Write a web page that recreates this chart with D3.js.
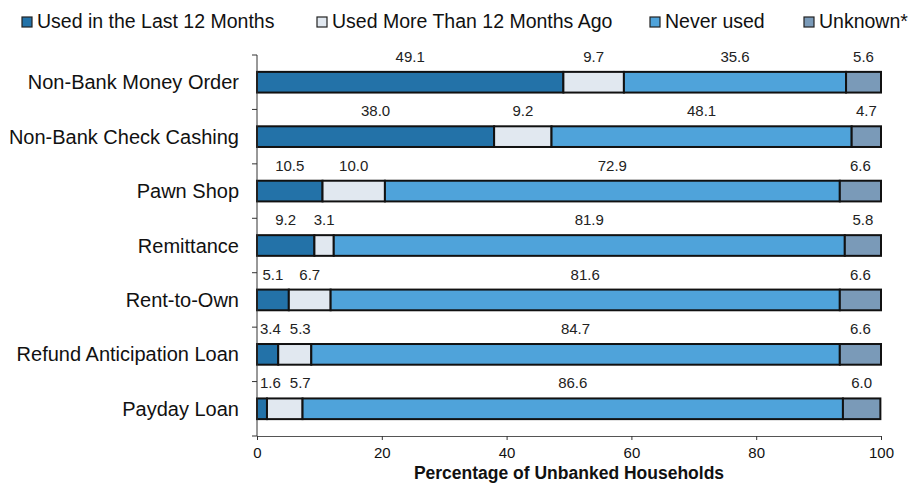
<!DOCTYPE html>
<html><head><meta charset="utf-8">
<script src="https://cdn.jsdelivr.net/npm/d3@7"></script>
<style>body{margin:0;background:#fff}text{font-family:"Liberation Sans",Arial,sans-serif}</style>
</head><body><svg id="c" width="911" height="483"></svg>
<script>
const categories = ["Non-Bank Money Order","Non-Bank Check Cashing","Pawn Shop","Remittance","Rent-to-Own","Refund Anticipation Loan","Payday Loan"];
const seriesNames = ["Used in the Last 12 Months","Used More Than 12 Months Ago","Never used","Unknown*"];
const usedLast12 = [49.1,38.0,10.5,9.2,5.1,3.4,1.6];
const usedMore12 = [9.7,9.2,10.0,3.1,6.7,5.3,5.7];
const neverUsed = [35.6,48.1,72.9,81.9,81.6,84.7,86.6];
const unknown = [5.6,4.7,6.6,5.8,6.6,6.6,6.0];
const xTicks = [0,20,40,60,80,100];
const colors = ["#2372a8","#e1e8f0","#4fa3da","#7a9ab8"];

const svg = d3.select("#c");
const m = {l:257, r:30, t:55, b:47};
const W = 911, H = 483;
const x = d3.scaleLinear().domain([0,100]).range([m.l, W - m.r]);
const y = d3.scaleBand().domain(categories).range([m.t, H - m.b]).paddingInner(0.62).paddingOuter(0.31);

const rows = categories.map((c,i)=>({cat:c, vals:[usedLast12[i],usedMore12[i],neverUsed[i],unknown[i]]}));
const series = seriesNames.map((s,k)=>rows.map(r=>{
  const start = d3.sum(r.vals.slice(0,k));
  return {cat:r.cat, k, v:r.vals[k], x0:start, x1:Math.min(start + r.vals[k],100)};
}));

// bars
series.forEach((ser,k)=>{
  svg.append("g").selectAll("rect").data(ser).join("rect")
    .attr("x", d=>x(d.x0)).attr("width", d=>x(d.x1)-x(d.x0))
    .attr("y", d=>y(d.cat)).attr("height", y.bandwidth())
    .attr("fill", colors[k]).attr("stroke","#111").attr("stroke-width",2);
});

// value labels, centred over segments, nudged apart when crowded
const lblG = svg.append("g");
rows.forEach(r=>{
  let prevRight = x(0) + 3;
  series.forEach(ser=>{
    const d = ser.find(e=>e.cat===r.cat);
    const t = lblG.append("text").attr("y", y(r.cat)-10)
      .attr("text-anchor","middle").attr("font-size",15).attr("fill","#222")
      .text(d.v.toFixed(1));
    const w = t.node().getComputedTextLength();
    let cx = (x(d.x0)+x(d.x1))/2;
    if (cx - w/2 < prevRight) cx = prevRight + w/2;
    t.attr("x", cx);
    prevRight = cx + w/2 + 9;
  });
});

// y axis
const yAxisG = svg.append("g");
yAxisG.append("line").attr("x1",m.l).attr("x2",m.l).attr("y1",m.t).attr("y2",H-m.b).attr("stroke","#333");
const bounds = d3.range(categories.length+1).map(i=>m.t + i*(H-m.b-m.t)/categories.length);
yAxisG.selectAll("line.t").data(bounds).join("line").attr("class","t")
  .attr("x1",m.l-5).attr("x2",m.l).attr("y1",d=>d).attr("y2",d=>d).attr("stroke","#333");
yAxisG.selectAll("text").data(categories).join("text")
  .attr("x",239).attr("y",d=>y(d)+y.bandwidth()/2).attr("dy","0.35em")
  .attr("text-anchor","end").attr("font-size",20).attr("fill","#111").text(d=>d);

// x axis
const xg = svg.append("g").attr("transform",`translate(0,${H-m.b})`)
  .call(d3.axisBottom(x).tickValues(xTicks).tickSize(4).tickSizeOuter(0).tickPadding(7));
xg.select(".domain").attr("stroke","#555");
xg.selectAll(".tick line").attr("stroke","#333");
xg.selectAll("text").attr("font-size",15).attr("fill","#111").style("font-family","Liberation Sans, Arial, sans-serif");
svg.append("text").attr("x",(x(0)+x(100))/2).attr("y",479).attr("text-anchor","middle")
  .attr("font-size",17.5).attr("font-weight","bold").attr("fill","#111").text("Percentage of Unbanked Households");

// legend
const legX = [22,317,650,804];
const lg = svg.append("g").selectAll("g").data(seriesNames).join("g")
  .attr("transform",(d,i)=>`translate(${legX[i]},22)`);
lg.append("rect").attr("x",0).attr("y",-5).attr("width",10).attr("height",10)
  .attr("fill",(d,i)=>colors[i]).attr("stroke","#222").attr("stroke-width",1.2);
lg.append("text").attr("x",15).attr("y",0).attr("dy","0.33em").attr("font-size",19.5).attr("fill","#111").text(d=>d);
</script></body></html>
